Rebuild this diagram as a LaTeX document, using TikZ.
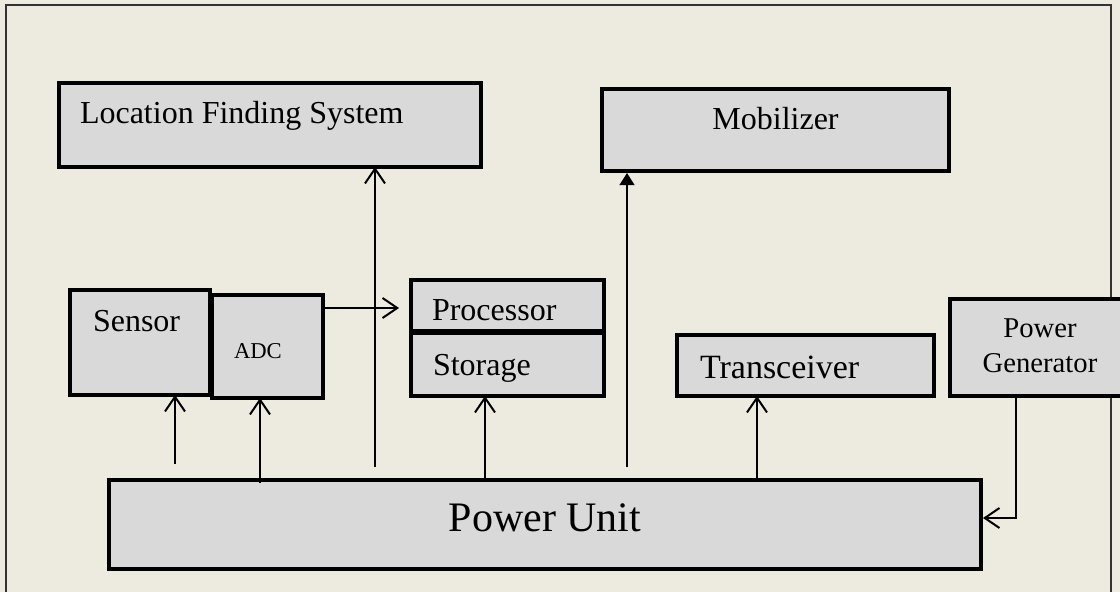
\documentclass[tikz,border=0pt]{standalone}
\usepackage{fontspec}
\setmainfont{Liberation Serif}
\usetikzlibrary{arrows.meta}
\definecolor{bgcol}{HTML}{EDEAE0}
\definecolor{boxfill}{HTML}{D9D9D9}
\definecolor{framecol}{HTML}{333333}
\tikzset{
  blk/.style={draw=black, fill=boxfill, line width=3.2pt, rectangle, inner sep=0pt, outer sep=0pt, anchor=north west},
  txt/.style={inner sep=0pt, outer sep=0pt, anchor=base west, text=black},
  link/.style={line width=1.5pt, -{Straight Barb[length=11pt,width=15pt,line width=1.5pt]}},
  filledlink/.style={line width=1.5pt, -{Triangle[length=9pt,width=11pt]}},
}
\newcommand{\fsz}[2]{\fontsize{#1}{#2}\selectfont}
\begin{document}
\begin{tikzpicture}[x=0.75pt,y=-0.75pt]
\useasboundingbox (0,0) rectangle (1120,592);
\clip (0,0) rectangle (1120,592);
\fill[bgcol] (0,0) rectangle (1120,592);
\draw[framecol, line width=1.5pt] (6,600) -- (6,5) -- (1111,5) -- (1111,600);

% boxes
\node[blk, minimum width=422*0.75pt, minimum height=84*0.75pt] (loc) at (59,83) {};
\node[blk, minimum width=347*0.75pt, minimum height=82*0.75pt] (mob) at (602,89) {};
\node[blk, minimum width=140*0.75pt, minimum height=105*0.75pt] (sen) at (70,290) {};
\node[blk, minimum width=111*0.75pt, minimum height=103*0.75pt] (adc) at (212,295) {};
\node[blk, minimum width=193*0.75pt, minimum height=51*0.75pt] (proc) at (411,280) {};
\node[blk, minimum width=193*0.75pt, minimum height=63*0.75pt] (stor) at (411,333) {};
\node[blk, minimum width=257*0.75pt, minimum height=61*0.75pt] (trx) at (677,335) {};
\node[blk, minimum width=190*0.75pt, minimum height=97*0.75pt] (pgen) at (950,299) {};
\node[blk, minimum width=872*0.75pt, minimum height=89*0.75pt] (pu) at (109,480) {};

% texts
\node[txt] (locT) at (80,123) {\fsz{24}{28}Location Finding System};
\node[txt, anchor=base] (mobT) at (775.5,129) {\fsz{24}{28}Mobilizer};
\node[txt] (senT) at (93,331) {\fsz{24}{28}Sensor};
\node[txt] (adcT) at (234,358) {\fsz{17}{20}ADC};
\node[txt] (procT) at (432,320) {\fsz{24}{28}Processor};
\node[txt] (storT) at (433,375) {\fsz{24}{28}Storage};
\node[txt] (trxT) at (700,378) {\fsz{25.5}{30}Transceiver};
\node[txt, anchor=base] (pgT1) at (1040,337) {\fsz{21.5}{26}Power};
\node[txt, anchor=base] (pgT2) at (1040,372) {\fsz{21.5}{26}Generator};
\node[txt, anchor=base] (puT) at (545,531) {\fsz{31.5}{36}Power Unit};

% connectors
\coordinate (sen0) at (175,464);
\coordinate (adc0) at (260,483);
\coordinate (loc0) at (375,467);
\coordinate (mob0) at (627,467);
\draw[link] (sen0) -- (sen.south -| sen0);
\draw[link] (adc0) -- (adc.south -| adc0);
\draw[link] (loc0) -- (loc.south -| loc0);
\draw[link] (adc.east |- 0,308) -- ([xshift=-9pt]proc.west |- 0,308);
\draw[link] (pu.north -| 485,0) -- (stor.south -| 485,0);
\draw[filledlink] (mob0) -- ([yshift=-1.5pt]mob.south -| mob0);
\draw[link] (pu.north -| 757,0) -- (trx.south -| 757,0);
\draw[link] (pgen.south -| 1016,0) |- ([xshift=1.5pt]pu.east |- 0,518);
\end{tikzpicture}
\end{document}
